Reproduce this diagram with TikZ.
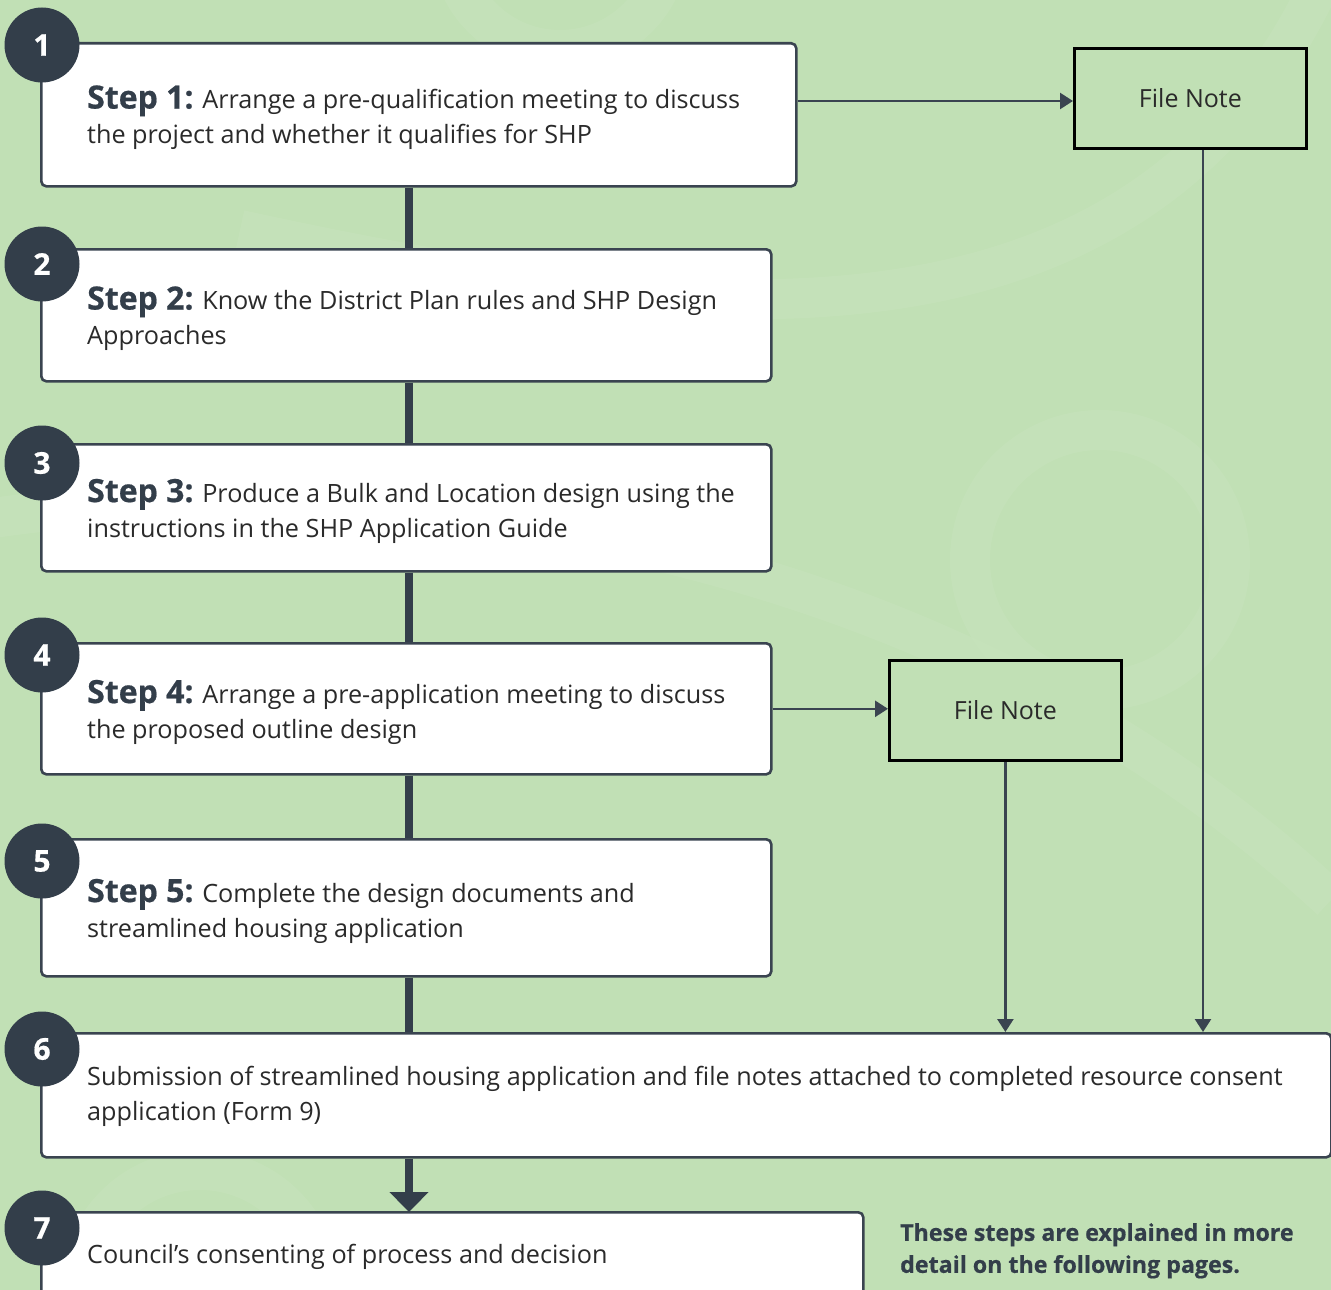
\documentclass[tikz,border=0pt]{standalone}
\usepackage{fontspec}
\setmainfont{Open Sans}
\newfontfamily\xbold{Open Sans}[BoldFeatures={FakeBold=0.6}]
\usetikzlibrary{arrows.meta,calc}
\definecolor{bg}{HTML}{C1E0B5}
\definecolor{bglight}{HTML}{C7E3BC}
\definecolor{navy}{HTML}{333E4A}
\definecolor{edge}{HTML}{3A4450}
\definecolor{body}{HTML}{2A2A2A}
\tikzset{
  stepbox/.style={draw=edge, line width=2.6pt, fill=white, rounded corners=5pt,
    anchor=north west, inner sep=0pt},
  txt/.style={anchor=west, align=left, inner sep=0pt,
    font=\fontsize{25.2}{35}\selectfont, text=body},
  numdot/.style={circle, fill=navy, minimum size=75pt, inner sep=0pt, text=white,
    font=\xbold\bfseries\fontsize{30}{30}\selectfont},
  notebox/.style={draw=black, line width=2.8pt, fill=bg, minimum width=232pt,
    minimum height=100pt, anchor=north west, font=\fontsize{25}{30}\selectfont, text=body},
  spine/.style={draw=navy, line width=8pt},
  thin/.style={draw=edge, line width=2.6pt, -{Triangle[length=13pt,width=16pt]}},
}
\newcommand{\stp}[1]{{\xbold\bfseries\color{navy}\fontsize{32}{35}\selectfont Step #1:}}
\begin{document}
\begin{tikzpicture}[x=1pt,y=-1pt]
\useasboundingbox (0,0) rectangle (1331,1290);
\clip (0,0) rectangle (1331,1290);
\fill[bg] (0,0) rectangle (1331,1290);
% faint background swirls
\begin{scope}[bglight, line width=40pt, opacity=0.6]
  \draw (1331,-40) .. controls (1150,380) and (700,330) .. (240,230);
  \draw (-20,520) .. controls (300,470) and (900,500) .. (1331,900);
  \draw (1100,560) circle (130);
  \draw (200,1290) circle (120);
  \draw (560,-60) circle (110);
\end{scope}
\coordinate (sp) at (409,0);
\coordinate (fnx) at (1203,0);
\coordinate (a1y) at (0,101);
% step boxes
\node[stepbox, minimum width=755pt, minimum height=143pt] (b1) at (40,42) {};
\node[stepbox, minimum width=730pt, minimum height=132pt] (b2) at (40,248) {};
\node[stepbox, minimum width=730pt, minimum height=127pt] (b3) at (40,443) {};
\node[stepbox, minimum width=730pt, minimum height=131pt] (b4) at (40,642) {};
\node[stepbox, minimum width=730pt, minimum height=137pt] (b5) at (40,838) {};
\node[stepbox, minimum width=1290pt, minimum height=124pt] (b6) at (40,1032) {};
\node[stepbox, minimum width=822pt, minimum height=140pt] (b7) at (40,1211) {};
% step texts
\node[txt] (t1) at (87,117.5) {\stp{1} Arrange a pre-qualification meeting to discuss\\the project and whether it qualifies for SHP};
\node[txt] (t2) at (87,318.5) {\stp{2} Know the District Plan rules and SHP Design\\Approaches};
\node[txt] (t3) at (87,511) {\stp{3} Produce a Bulk and Location design using the\\instructions in the SHP Application Guide};
\node[txt] (t4) at (87,712) {\stp{4} Arrange a pre-application meeting to discuss\\the proposed outline design};
\node[txt] (t5) at (87,911) {\stp{5} Complete the design documents and\\streamlined housing application};
\node[txt] (t6) at (87,1096.5) {Submission of streamlined housing application and file notes attached to completed resource consent\\application (Form 9)};
\node[txt] (t7) at (87,1257) {Council’s consenting of process and decision};
% spine connectors
\draw[spine] (b1.south -| sp) -- (b2.north -| sp);
\draw[spine] (b2.south -| sp) -- (b3.north -| sp);
\draw[spine] (b3.south -| sp) -- (b4.north -| sp);
\draw[spine] (b4.south -| sp) -- (b5.north -| sp);
\draw[spine] (b5.south -| sp) -- (b6.north -| sp);
\draw[spine, -{Triangle[length=20pt,width=38pt]}, shorten >=-1pt] (b6.south -| sp) -- (b7.north -| sp);
% number circles
\node[numdot] (n1) at (42,45) {1};
\node[numdot] (n2) at (42,264) {2};
\node[numdot] (n3) at (42,463) {3};
\node[numdot] (n4) at (42,655) {4};
\node[numdot] (n5) at (42,861) {5};
\node[numdot] (n6) at (42,1049) {6};
\node[numdot] (n7) at (42,1228) {7};
% file notes
\node[notebox] (fn1) at (1073,47) {File Note};
\node[notebox] (fn2) at (888,659) {File Note};
\draw[thin] (b1.east |- a1y) -- (fn1.west |- a1y);
\draw[thin] (b4.east) -- (b4.east -| fn2.west);
\draw[thin] (fn1.south -| fnx) -- (b6.north -| fnx);
\draw[thin] (fn2.south) -- (fn2.south |- b6.north);
% note
\node[anchor=north west, align=left, text=navy, inner sep=0pt,
  font=\xbold\bfseries\fontsize{23.2}{32}\selectfont] (note) at (900,1223)
  {These steps are explained in more\\detail on the following pages.};
\end{tikzpicture}
\end{document}
